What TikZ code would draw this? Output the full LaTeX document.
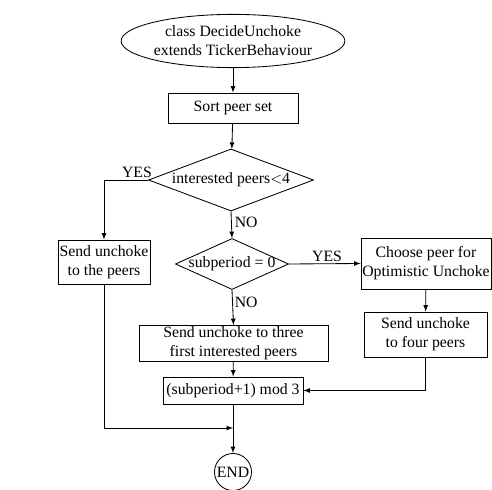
\documentclass[tikz,border=0pt]{standalone}
\usepackage{fontspec}
\setmainfont{Liberation Serif}
\usetikzlibrary{shapes.geometric}

\begin{document}
\begin{tikzpicture}[x=0.025cm, y=-0.025cm, >=latex, semithick,
		every node/.style={font=\fontsize{11.2}{13.5}\selectfont},
		box/.style={draw, rectangle, align=center, inner sep=1pt},
		cond/.style={draw, diamond, inner sep=0pt, align=center},
		lbl/.style={inner sep=1pt}]
				\useasboundingbox (0,0) rectangle (492,490);
				\begin{scope}
					\node[draw, ellipse, align=center, minimum width=5.25cm, minimum height=1.33cm, inner sep=0pt] (start) at (233,41) {class DecideUnchoke\\extends TickerBehaviour};
					\node[box, minimum width=3.25cm, minimum height=0.75cm] (sort) at (233,108) {Sort peer set};
					\node[cond, aspect=2.66, inner xsep=-2pt, minimum width=4.125cm, minimum height=1.55cm] (cond1) at (231,180) {interested peers$<$4};
					\node[box, minimum width=2.3cm, minimum height=1.1cm] (sendpeers) at (104,262) {Send unchoke\\to the peers};
					\node[cond, aspect=2.2, inner xsep=-6pt, inner ysep=-2pt, minimum width=2.825cm, minimum height=1.275cm] (cond2) at (232,264) {subperiod = 0};
					\node[box, minimum width=3.15cm, minimum height=1.275cm] (choose) at (426,263.5) {Choose peer for\\Optimistic Unchoke};
					\node[box, minimum width=3.075cm, minimum height=1.125cm] (sendfour) at (425.5,334.5) {Send unchoke\\to four peers};
					\node[box, minimum width=4.725cm, minimum height=0.875cm] (sendthree) at (233.5,343.5) {Send unchoke to three\\first interested peers};
					\node[box, minimum width=3.5cm, minimum height=0.675cm] (incr) at (233,390.5) {(subperiod+1) mod 3};
					\node[draw, circle, minimum size=0.925cm, inner sep=0pt] (finish) at (233,472) {END};
					\coordinate (join) at (233,428);

					\draw[->] (start) -- (sort);
					\draw[->] (sort) -- (cond1);
					\draw[->] (cond1.west) -| (sendpeers.north); % si
					\node[lbl, anchor=south] (yes1) at (137,179) {YES};
					\draw[->] (cond1.south) -- (cond2.north); % no
					\node[lbl, anchor=west] (no1) at (233,222) {NO};
					\draw[->] (cond2.east) -- (choose.west); % si
					\node[lbl, anchor=south] (yes2) at (327,263) {YES};
					\draw[->] (cond2.south) -- (sendthree.north); % no
					\node[lbl, anchor=west] (no2) at (233,302) {NO};
					\draw[->] (choose) -- (sendfour);
					\draw[->] (sendthree) -- (incr);
					\draw[->] (sendfour.south) |- (incr.east);
					\draw[->] (sendpeers.south) |- (join);
					\draw[->] (incr) -- (finish);
				\end{scope}
			\end{tikzpicture}
\end{document}
